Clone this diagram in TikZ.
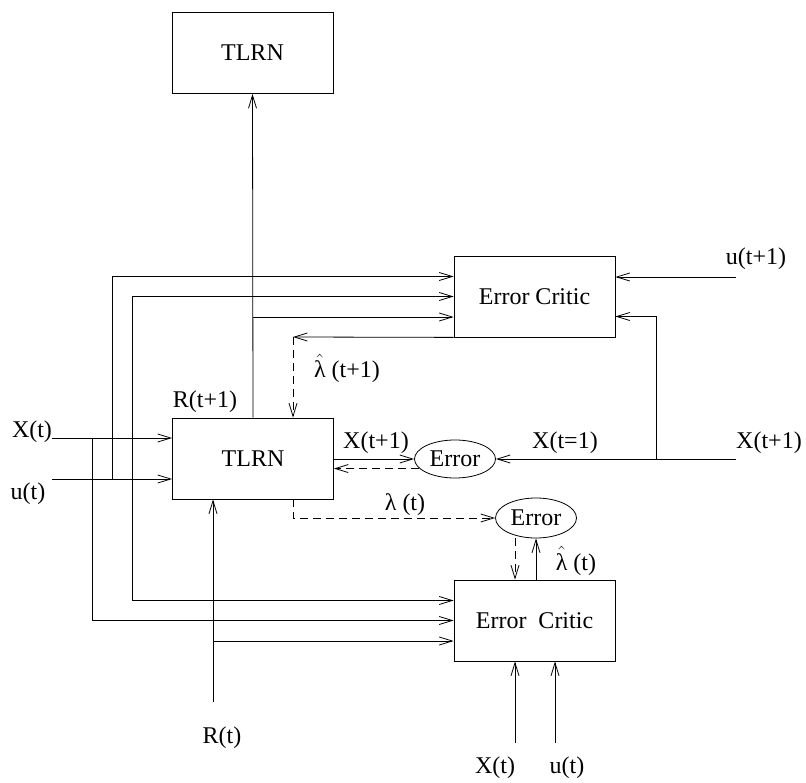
\documentclass[tikz,border=0pt]{standalone}
\usepackage{amsmath}
\usepackage{fontspec}
\setmainfont{Liberation Serif}
\usetikzlibrary{arrows.meta,positioning,shapes.geometric}

\begin{document}
\begin{tikzpicture}[
  x=1pt, y=-1pt,
  font=\fontsize{24}{28}\selectfont,
  line width=0.8pt,
  block/.style={draw, minimum width=161pt, minimum height=81pt, inner sep=0pt},
  errnode/.style={draw, ellipse, minimum width=81pt, minimum height=38pt, inner sep=0pt},
  flow/.style={-{Straight Barb[length=13pt,width=8pt]}},
  back/.style={-{Straight Barb[length=13pt,width=8pt]}, dash pattern=on 8pt off 5pt},
  lbl/.style={anchor=base, inner sep=0pt}
]
\useasboundingbox (0,0) rectangle (806,783);

\node[block] (tlrnTop) at (252.5,53) {TLRN};
\node[block] (tlrn) at (253,458.5) {TLRN};
\node[block] (ecTop) at (534.5,296.5) {Error Critic};
\node[block] (ecBot) at (534.5,620.5) {Error\enspace Critic};
\node[errnode] (err1) at (455,459) {Error};
\node[errnode, minimum height=40pt] (err2) at (536,518) {Error};

\coordinate (xin) at (52,438);
\coordinate (uin) at (52,479);
\coordinate (jx) at (92,438);
\coordinate (ju) at (112,479);
\coordinate (jx2) at (132,438);
\coordinate (jr) at (253,317);
\coordinate (lamTop) at (293,337);
\coordinate (rin) at (213,702);
\coordinate (jr2) at (213,641);
\coordinate (xnext) at (736,459);
\coordinate (jxn) at (656,459);
\coordinate (unext) at (736,277);
\coordinate (xbot) at (515,743);
\coordinate (ubot) at (555,743);

\draw[flow] (xin) -- (xin -| tlrn.west);
\draw[flow] (uin) -- (uin -| tlrn.west);
\draw[flow] (jx) |- (ecBot.west);
\draw[flow] (ju) |- ([yshift=20pt]ecTop.west);
\draw[flow] (jx2) |- (ecTop.west);
\draw[flow] (jx2) |- ([yshift=20pt]ecBot.west);
\draw[flow] (tlrn.north) -- (tlrnTop.south);
\draw[flow] (jr) -- (jr -| ecTop.west);
\draw[flow] (ecTop.south west) -- (lamTop);
\draw[back] (lamTop) -- (lamTop |- tlrn.north);
\draw[flow] (tlrn.east |- err1) -- (err1);
\draw[back] (err1.195) -- (err1.195 -| tlrn.east);
\draw[flow] (xnext) -- (err1);
\draw[flow] (jxn) |- ([yshift=-20pt]ecTop.east);
\draw[flow] (unext) -- (unext -| ecTop.east);
\draw[back] ([xshift=40pt]tlrn.south) |- (err2);
\draw[back] ([xshift=-21pt]err2.south) -- ([xshift=-21pt]err2.south |- ecBot.north);
\draw[flow] (err2.south |- ecBot.north) -- (err2.south);
\draw[flow] (rin) -- (rin |- tlrn.south);
\draw[flow] (jr2) -- (jr2 -| ecBot.west);
\draw[flow] (xbot) -- (xbot |- ecBot.south);
\draw[flow] (ubot) -- (ubot |- ecBot.south);

\node[lbl] (lxin) at (32,438) {X(t)};
\node[lbl] (luin) at (28,499) {u(t)};
\node[lbl] (lrnext) at (205,408) {R(t+1)};
\node[lbl] (llamnext) at (347,378) {$\hat{\text{λ}}$ (t+1)};
\node[lbl] (lxmid) at (376,448) {X(t+1)};
\node[lbl] (lxeq) at (565,448) {X(t=1)};
\node[lbl] (lxnext) at (769,449) {X(t+1)};
\node[lbl] (lunext) at (756,265) {u(t+1)};
\node[lbl] (llam) at (405,510) {λ (t)};
\node[lbl] (llamhat) at (576,570) {$\hat{\text{λ}}$ (t)};
\node[lbl] (lrin) at (222,743) {R(t)};
\node[lbl] (lxbot) at (495,773) {X(t)};
\node[lbl] (lubot) at (567,773) {u(t)};

\end{tikzpicture}
\end{document}
